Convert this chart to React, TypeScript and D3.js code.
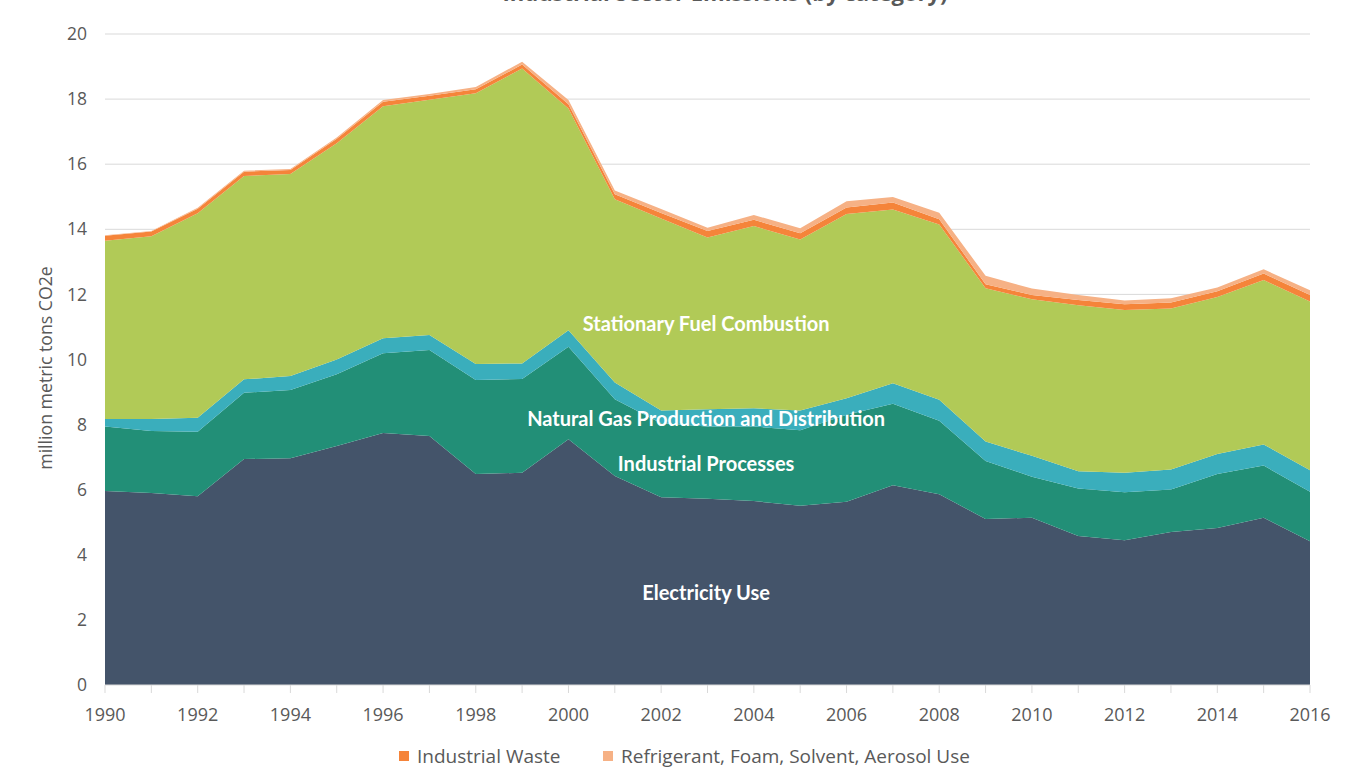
import React from "react";
import * as d3 from "d3";

const years = [1990,1991,1992,1993,1994,1995,1996,1997,1998,1999,2000,2001,2002,2003,2004,2005,2006,2007,2008,2009,2010,2011,2012,2013,2014,2015,2016];
const electricityUse = [5.96,5.9,5.8,6.94,6.97,7.34,7.74,7.65,6.48,6.52,7.55,6.42,5.77,5.72,5.65,5.51,5.63,6.14,5.86,5.1,5.14,4.58,4.45,4.7,4.82,5.14,4.42];
const industrialProcesses = [1.98,1.9,1.98,2.04,2.09,2.21,2.45,2.64,2.89,2.88,2.84,2.36,2.27,2.22,2.29,2.32,2.67,2.5,2.26,1.78,1.26,1.46,1.47,1.31,1.66,1.6,1.52];
const naturalGas = [0.23,0.37,0.43,0.41,0.43,0.45,0.46,0.46,0.49,0.48,0.51,0.51,0.39,0.53,0.56,0.6,0.51,0.63,0.64,0.6,0.64,0.53,0.6,0.61,0.62,0.65,0.66];
const stationaryFuel = [5.48,5.62,6.28,6.25,6.21,6.64,7.13,7.23,8.32,9.06,6.81,5.63,5.9,5.28,5.6,5.26,5.66,5.34,5.39,4.71,4.81,5.1,5.0,4.95,4.82,5.05,5.18];
const industrialWaste = [0.15,0.14,0.14,0.13,0.12,0.14,0.14,0.12,0.12,0.12,0.13,0.16,0.17,0.2,0.19,0.19,0.2,0.21,0.16,0.12,0.13,0.16,0.18,0.18,0.18,0.2,0.2];
const refrigerantUse = [0.02,0.02,0.03,0.03,0.03,0.04,0.05,0.06,0.07,0.09,0.13,0.11,0.12,0.1,0.15,0.15,0.19,0.17,0.2,0.26,0.2,0.15,0.11,0.13,0.11,0.13,0.15];

const seriesNames = ["Electricity Use","Industrial Processes","Natural Gas Production and Distribution","Stationary Fuel Combustion","Industrial Waste","Refrigerant, Foam, Solvent, Aerosol Use"];
const seriesValues = [electricityUse, industrialProcesses, naturalGas, stationaryFuel, industrialWaste, refrigerantUse];
const colors = ["#44546a","#228f77","#3aaebc","#b1ca57","#f5843a","#f6b185"];
const yTicks = [0,2,4,6,8,10,12,14,16,18,20];
const xTickLabels = [1990,1992,1994,1996,1998,2000,2002,2004,2006,2008,2010,2012,2014,2016];
const legendItems = ["Industrial Waste","Refrigerant, Foam, Solvent, Aerosol Use"];
const chartTitle = "Industrial Sector Emissions (by category)";
const inlineLabels = [
  { name: "Stationary Fuel Combustion", year: 2002.97, value: 11.09 },
  { name: "Natural Gas Production and Distribution", year: 2002.97, value: 8.17 },
  { name: "Industrial Processes", year: 2002.97, value: 6.79 },
  { name: "Electricity Use", year: 2002.97, value: 2.83 },
];

export default function App() {
  const W = 1353, H = 780;
  const x = d3.scaleLinear().domain([1990, 2016]).range([105, 1310]);
  const y = d3.scaleLinear().domain([0, 20]).range([685, 34]);

  const table = years.map((yr, i) => {
    const row: any = { year: yr };
    seriesNames.forEach((n, k) => (row[n] = seriesValues[k][i]));
    return row;
  });
  const stacked = d3.stack<any>().keys(seriesNames)(table);
  const area = d3.area<any>()
    .x((d) => x(d.data.year))
    .y0((d) => y(d[0]))
    .y1((d) => y(d[1]));

  const font = "'Open Sans', sans-serif";
  const grey = "#595959";

  return (
    <svg width={W} height={H} style={{ position: "absolute", left: 0, top: 0, background: "#fff" }}>
      <text x={725} y={1} textAnchor="middle" fontFamily={font} fontSize={22} fontWeight="bold" fill={grey}>{chartTitle}</text>
      {yTicks.map((t) => (
        <g key={t}>
          {t > 0 && <line x1={105} x2={1310} y1={y(t)} y2={y(t)} stroke="#d9d9d9" strokeWidth={1} />}
          <text x={87} y={y(t)} dy="0.35em" textAnchor="end" fontFamily={font} fontSize={17.5} fill={grey}>{t}</text>
        </g>
      ))}
      {stacked.map((s, k) => (
        <path key={s.key} d={area(s) || ""} fill={colors[k]} />
      ))}
      <line x1={105} x2={1310} y1={y(0)} y2={y(0)} stroke="#d9d9d9" strokeWidth={1} />
      {years.map((yr) => (
        <line key={yr} x1={x(yr)} x2={x(yr)} y1={y(0)} y2={y(0) + 8} stroke="#d9d9d9" strokeWidth={1} />
      ))}
      {xTickLabels.map((yr) => (
        <text key={yr} x={x(yr)} y={715} dy="0.35em" textAnchor="middle" fontFamily={font} fontSize={18} fill={grey}>{yr}</text>
      ))}
      <text transform={`translate(46, 368) rotate(-90)`} textAnchor="middle" dy="0.35em" fontFamily={font} fontSize={17.7} fill={grey}>million metric tons CO2e</text>
      {inlineLabels.map((l) => (
        <text key={l.name} x={x(l.year)} y={y(l.value)} dy="0.35em" textAnchor="middle" fontFamily="Lato, sans-serif" fontWeight="bold" fontSize={20} fill="#ffffff">{l.name}</text>
      ))}
      {legendItems.map((name, i) => {
        const lx = i === 0 ? 399 : 603;
        const k = seriesNames.indexOf(name);
        return (
          <g key={name}>
            <rect x={lx} y={751} width={10} height={10} fill={colors[k]} />
            <text x={lx + 18} y={756} dy="0.35em" fontFamily={font} fontSize={19} fill={grey}>{name}</text>
          </g>
        );
      })}
    </svg>
  );
}
